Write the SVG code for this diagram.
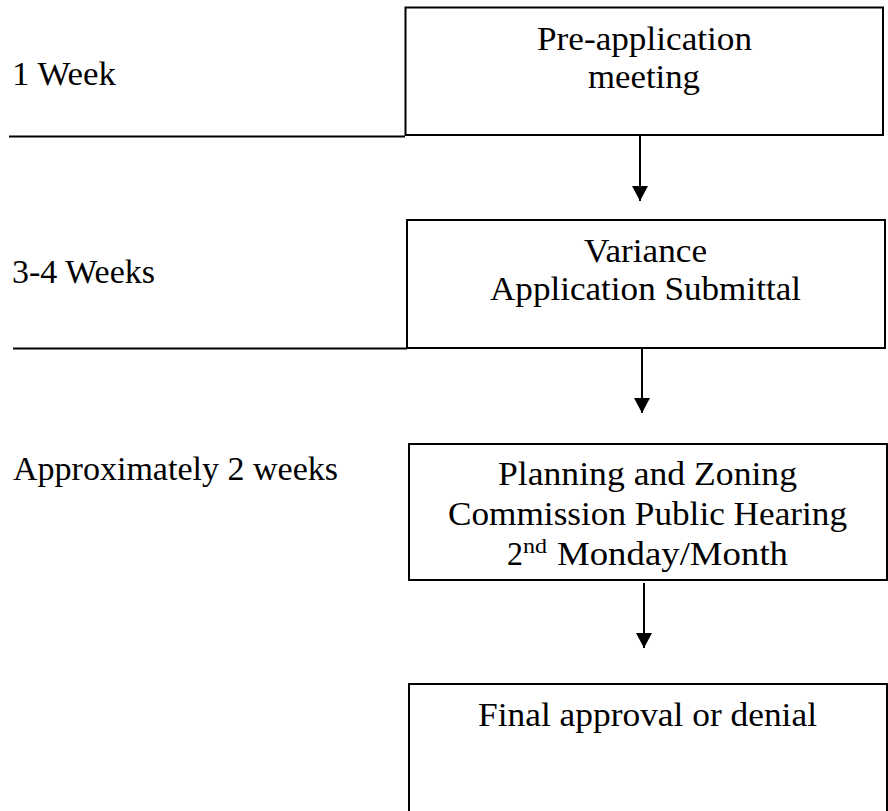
<svg xmlns="http://www.w3.org/2000/svg" width="888" height="811" viewBox="0 0 888 811">
  <defs>
    <marker id="arrow" markerUnits="userSpaceOnUse" markerWidth="16" markerHeight="16" refX="15" refY="8" orient="auto">
      <path d="M0,0 L15,8 L0,16 z" fill="#000"/>
    </marker>
    <style>
      .box { fill: #fff; stroke: #000; stroke-width: 2; }
      .sep { stroke: #000; stroke-width: 2; fill: none; }
      .conn { stroke: #000; stroke-width: 2; fill: none; marker-end: url(#arrow); }
      text { font-family: "Liberation Serif", "DejaVu Serif", serif; font-size: 33px; fill: #000; }
      .sup { font-size: 20px; }
    </style>
  </defs>
  <rect width="888" height="811" fill="#fff"/>

  <g id="labels">
    <g id="label-1week">
      <text x="12" y="85" textLength="104" lengthAdjust="spacingAndGlyphs">1 Week</text>
      <line class="sep" x1="9" y1="136.5" x2="405" y2="136.5"/>
    </g>
    <g id="label-3-4weeks">
      <text x="12" y="283" textLength="143" lengthAdjust="spacingAndGlyphs">3-4 Weeks</text>
      <line class="sep" x1="13" y1="348.5" x2="407" y2="348.5"/>
    </g>
    <g id="label-2weeks">
      <text x="13" y="480" textLength="325" lengthAdjust="spacingAndGlyphs">Approximately 2 weeks</text>
    </g>
  </g>

  <g id="node-preapp">
    <rect class="box" x="405.5" y="7.5" width="477.5" height="127.5"/>
    <text x="537" y="50" textLength="215" lengthAdjust="spacingAndGlyphs">Pre-application</text>
    <text x="588" y="88" textLength="112" lengthAdjust="spacingAndGlyphs">meeting</text>
  </g>

  <g id="node-variance">
    <rect class="box" x="407" y="220" width="478" height="128"/>
    <text x="584" y="262" textLength="123" lengthAdjust="spacingAndGlyphs">Variance</text>
    <text x="490" y="300" textLength="311" lengthAdjust="spacingAndGlyphs">Application Submittal</text>
  </g>

  <g id="node-hearing">
    <rect class="box" x="409" y="444" width="478" height="136"/>
    <text x="498" y="485" textLength="299" lengthAdjust="spacingAndGlyphs">Planning and Zoning</text>
    <text x="448" y="525" textLength="399" lengthAdjust="spacingAndGlyphs">Commission Public Hearing</text>
    <text x="507" y="565" textLength="16" lengthAdjust="spacingAndGlyphs">2</text>
    <text class="sup" x="523" y="553" textLength="24" lengthAdjust="spacingAndGlyphs">nd</text>
    <text x="557" y="565" textLength="231" lengthAdjust="spacingAndGlyphs">Monday/Month</text>
  </g>

  <g id="node-final">
    <rect class="box" x="409" y="684" width="478" height="150"/>
    <text x="478" y="726" textLength="339" lengthAdjust="spacingAndGlyphs">Final approval or denial</text>
  </g>

  <g id="connectors">
    <line class="conn" x1="640" y1="135" x2="640" y2="201"/>
    <line class="conn" x1="642" y1="348" x2="642" y2="413"/>
    <line class="conn" x1="644" y1="583" x2="644" y2="648"/>
  </g>
</svg>
